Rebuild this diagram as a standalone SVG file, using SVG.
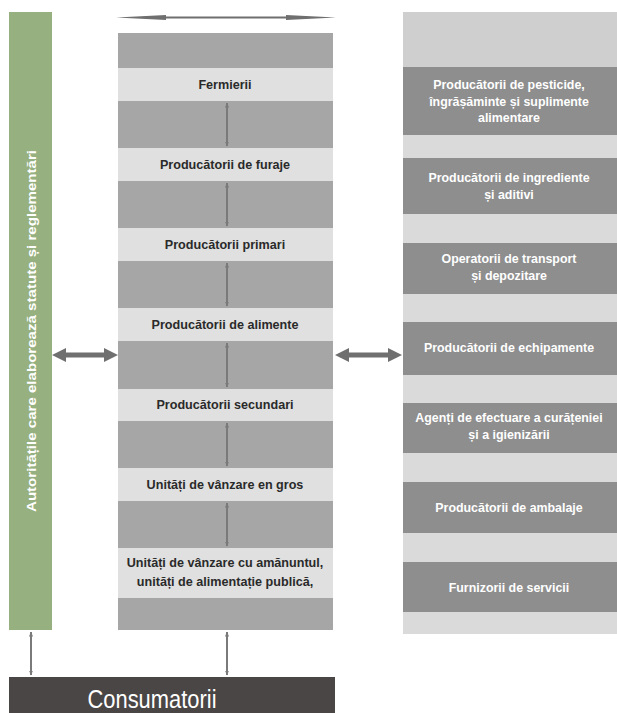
<svg xmlns="http://www.w3.org/2000/svg" width="617" height="713" viewBox="0 0 617 713">
<defs>
<marker id="sm" viewBox="0 0 10 10" refX="9" refY="5" markerWidth="5" markerHeight="6" orient="auto-start-reverse" markerUnits="userSpaceOnUse">
<path d="M0,1 L10,5 L0,9 Z" fill="#7a7a7a"/>
</marker>
</defs>
<style>
.dk{fill:#a6a6a6}
.lt{fill:#e0e0e0}
.rl{fill:#dadada}
.rd{fill:#8e8e8e}
.mt{font-family:"Liberation Sans",Arial,sans-serif;font-weight:bold;font-size:12.6px;fill:#2a2a2a;text-anchor:middle}
.rt{font-family:"Liberation Sans",Arial,sans-serif;font-weight:bold;font-size:12.4px;fill:#ffffff;text-anchor:middle}
.va{stroke:#7a7a7a;stroke-width:2;fill:none;marker-start:url(#sm);marker-end:url(#sm)}
.ha{fill:#6f6f6f}
</style>
<rect width="617" height="713" fill="#ffffff"/>

<g id="authorities">
<rect x="9" y="12" width="43" height="618" fill="#97b080"/>
<text transform="translate(36,331) rotate(-90)" text-anchor="middle" font-family="'Liberation Sans',Arial,sans-serif" font-weight="bold" font-size="13.5" fill="#ffffff" textLength="362" lengthAdjust="spacingAndGlyphs">Autoritățile care elaborează statute și reglementări</text>
</g>

<g id="chain">
<rect class="dk" x="118" y="33" width="215" height="597"/>
<rect class="lt" x="118" y="68" width="215" height="33"/>
<rect class="lt" x="118" y="148" width="215" height="33"/>
<rect class="lt" x="118" y="228" width="215" height="33"/>
<rect class="lt" x="118" y="308" width="215" height="33"/>
<rect class="lt" x="118" y="389" width="215" height="32"/>
<rect class="lt" x="118" y="468" width="215" height="33"/>
<rect class="lt" x="118" y="548" width="215" height="50"/>
</g>
<g id="n-fermierii"><text class="mt" x="225" y="89">Fermierii</text></g>
<g id="n-furaje"><text class="mt" x="225" y="169">Producătorii de furaje</text></g>
<g id="n-primari"><text class="mt" x="225" y="249">Producătorii primari</text></g>
<g id="n-alimente"><text class="mt" x="225" y="329">Producătorii de alimente</text></g>
<g id="n-secundari"><text class="mt" x="225" y="409">Producătorii secundari</text></g>
<g id="n-gros"><text class="mt" x="225" y="489">Unități de vânzare en gros</text></g>
<g id="n-amanunt"><text class="mt" x="225" y="567">Unități de vânzare cu amănuntul,</text><text class="mt" x="225" y="586">unități de alimentație publică,</text></g>

<g id="suppliers">
<rect class="rl" x="403" y="12" width="214" height="622"/>
<rect x="403" y="12" width="214" height="55" fill="#cfcfcf"/>
</g>
<g id="s-pesticide"><rect class="rd" x="403" y="67" width="214" height="68"/>
<text class="rt" x="509" y="89">Producătorii de pesticide,</text><text class="rt" x="509" y="106">îngrășăminte și suplimente</text><text class="rt" x="509" y="122">alimentare</text></g>
<g id="s-ingrediente"><rect class="rd" x="403" y="158" width="214" height="56"/>
<text class="rt" x="509" y="182">Producătorii de ingrediente</text><text class="rt" x="509" y="199">și aditivi</text></g>
<g id="s-transport"><rect class="rd" x="403" y="243" width="214" height="51"/>
<text class="rt" x="509" y="263">Operatorii de transport</text><text class="rt" x="509" y="280">și depozitare</text></g>
<g id="s-echipamente"><rect class="rd" x="403" y="322" width="214" height="53"/>
<text class="rt" x="509" y="352">Producătorii de echipamente</text></g>
<g id="s-curatenie"><rect class="rd" x="403" y="403" width="214" height="50"/>
<text class="rt" x="509" y="422">Agenți de efectuare a curățeniei</text><text class="rt" x="509" y="439">și a igienizării</text></g>
<g id="s-ambalaje"><rect class="rd" x="403" y="482" width="214" height="51"/>
<text class="rt" x="509" y="512">Producătorii de ambalaje</text></g>
<g id="s-servicii"><rect class="rd" x="403" y="562" width="214" height="50"/>
<text class="rt" x="509" y="592">Furnizorii de servicii</text></g>

<g id="consumers">
<rect x="9" y="677" width="326" height="36" fill="#4a4645"/>
<text x="152" y="708" text-anchor="middle" font-family="'Liberation Sans',Arial,sans-serif" font-size="25" fill="#ffffff" textLength="129" lengthAdjust="spacingAndGlyphs">Consumatorii</text>
</g>

<g id="connectors">
<path class="ha" d="M116,17.5 L166,15 L166,16.5 L286,16.5 L286,15 L336,17.5 L286,20 L286,18.5 L166,18.5 L166,20 Z"/>
<line class="va" x1="227" y1="103" x2="227" y2="146"/>
<line class="va" x1="227" y1="183" x2="227" y2="226"/>
<line class="va" x1="227" y1="263" x2="227" y2="306"/>
<line class="va" x1="227" y1="343" x2="227" y2="387"/>
<line class="va" x1="227" y1="423" x2="227" y2="466"/>
<line class="va" x1="227" y1="503" x2="227" y2="546"/>
<line class="va" x1="31" y1="632" x2="31" y2="675"/>
<line class="va" x1="227" y1="632" x2="227" y2="675"/>
<path class="ha" d="M52,355 L66,348 L66,352.5 L104,352.5 L104,348 L118,355 L104,362 L104,357.5 L66,357.5 L66,362 Z"/>
<path class="ha" d="M335,355 L349,348 L349,352.5 L388,352.5 L388,348 L402,355 L388,362 L388,357.5 L349,357.5 L349,362 Z"/>
</g>
</svg>
